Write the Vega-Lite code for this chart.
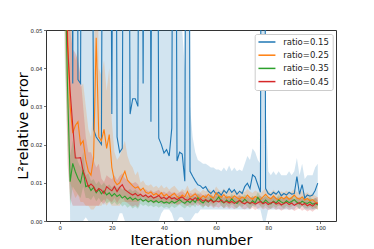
{
 "$schema": "https://vega.github.io/schema/vega-lite/v6.json",
 "width": 290, "height": 191,
 "autosize": {"type": "none"},
 "padding": {"left": 46, "top": 30, "right": 38, "bottom": 28},
 "background": "white",
 "config": {
  "view": {"stroke": "#333", "strokeWidth": 1},
  "font": "DejaVu Sans",
  "axis": {"grid": false, "domain": false, "ticks": true, "tickColor": "#333", "tickSize": 2.5, "tickWidth": 0.7, "labelFont": "DejaVu Sans", "labelFontSize": 5.4, "labelColor": "#222", "labelPadding": 1.5, "labelOverlap": false, "labelFlush": false, "titleFont": "DejaVu Sans", "titleFontSize": 14.4, "titleFontWeight": "normal", "titleColor": "#000"},
  "legend": {"orient": "none", "legendX": 208.7, "legendY": 4, "title": null, "symbolType": "M-1,0H3", "symbolSize": 72, "symbolStrokeWidth": 1.5, "labelFont": "DejaVu Sans", "labelFontSize": 8.5, "labelColor": "#222", "labelOffset": 15.5, "padding": 3, "rowPadding": 3.2, "fillColor": "white", "strokeColor": "#cccccc", "cornerRadius": 2, "symbolOpacity": 1}
 },
 "data": {"values": [
{"s":"ratio=0.15","x":0,"m":0.4,"lo":0.2,"hi":0.6},
{"s":"ratio=0.15","x":1,"m":0.3,"lo":0.15,"hi":0.45},
{"s":"ratio=0.15","x":2,"m":0.22,"lo":0.1,"hi":0.35},
{"s":"ratio=0.15","x":3,"m":0.15,"lo":0.07,"hi":0.25},
{"s":"ratio=0.15","x":4,"m":0.2,"lo":0.0,"hi":0.4},
{"s":"ratio=0.15","x":5,"m":0.036,"lo":0.0,"hi":0.12},
{"s":"ratio=0.15","x":6,"m":0.3,"lo":0.0,"hi":0.5},
{"s":"ratio=0.15","x":7,"m":0.037,"lo":0.0,"hi":0.1},
{"s":"ratio=0.15","x":8,"m":0.036,"lo":0.0,"hi":0.1},
{"s":"ratio=0.15","x":9,"m":0.25,"lo":0.0,"hi":0.45},
{"s":"ratio=0.15","x":10,"m":0.18,"lo":0.001,"hi":0.35},
{"s":"ratio=0.15","x":11,"m":0.22,"lo":0.0,"hi":0.4},
{"s":"ratio=0.15","x":12,"m":0.15,"lo":0.0,"hi":0.3},
{"s":"ratio=0.15","x":13,"m":0.024,"lo":0.0,"hi":0.08},
{"s":"ratio=0.15","x":14,"m":0.022,"lo":0.0,"hi":0.07},
{"s":"ratio=0.15","x":15,"m":0.021,"lo":0.0,"hi":0.06},
{"s":"ratio=0.15","x":16,"m":0.02,"lo":0.0,"hi":0.06},
{"s":"ratio=0.15","x":17,"m":0.2,"lo":0.0,"hi":0.4},
{"s":"ratio=0.15","x":18,"m":0.25,"lo":0.0,"hi":0.45},
{"s":"ratio=0.15","x":19,"m":0.18,"lo":0.0,"hi":0.35},
{"s":"ratio=0.15","x":20,"m":0.028,"lo":0.0,"hi":0.09},
{"s":"ratio=0.15","x":21,"m":0.2,"lo":0.0,"hi":0.38},
{"s":"ratio=0.15","x":22,"m":0.022,"lo":0.0,"hi":0.08},
{"s":"ratio=0.15","x":23,"m":0.018,"lo":0.002,"hi":0.07},
{"s":"ratio=0.15","x":24,"m":0.019,"lo":0.002,"hi":0.07},
{"s":"ratio=0.15","x":25,"m":0.22,"lo":0.0,"hi":0.4},
{"s":"ratio=0.15","x":26,"m":0.18,"lo":0.0,"hi":0.35},
{"s":"ratio=0.15","x":27,"m":0.028,"lo":0.0,"hi":0.08},
{"s":"ratio=0.15","x":28,"m":0.032,"lo":0.0,"hi":0.09},
{"s":"ratio=0.15","x":29,"m":0.032,"lo":0.0,"hi":0.09},
{"s":"ratio=0.15","x":30,"m":0.03,"lo":0.0,"hi":0.09},
{"s":"ratio=0.15","x":31,"m":0.2,"lo":0.0,"hi":0.38},
{"s":"ratio=0.15","x":32,"m":0.036,"lo":0.0,"hi":0.1},
{"s":"ratio=0.15","x":33,"m":0.22,"lo":0.0,"hi":0.4},
{"s":"ratio=0.15","x":34,"m":0.25,"lo":0.0,"hi":0.45},
{"s":"ratio=0.15","x":35,"m":0.026,"lo":0.0,"hi":0.08},
{"s":"ratio=0.15","x":36,"m":0.2,"lo":0.0,"hi":0.38},
{"s":"ratio=0.15","x":37,"m":0.18,"lo":0.0,"hi":0.35},
{"s":"ratio=0.15","x":38,"m":0.0217,"lo":0.0,"hi":0.07},
{"s":"ratio=0.15","x":39,"m":0.02,"lo":0.002,"hi":0.065},
{"s":"ratio=0.15","x":40,"m":0.0178,"lo":0.003,"hi":0.06},
{"s":"ratio=0.15","x":41,"m":0.0187,"lo":0.003,"hi":0.06},
{"s":"ratio=0.15","x":42,"m":0.017,"lo":0.003,"hi":0.06},
{"s":"ratio=0.15","x":43,"m":0.0243,"lo":0.002,"hi":0.07},
{"s":"ratio=0.15","x":44,"m":0.22,"lo":0.0,"hi":0.4},
{"s":"ratio=0.15","x":45,"m":0.0157,"lo":0.0,"hi":0.08},
{"s":"ratio=0.15","x":46,"m":0.018,"lo":0.001,"hi":0.07},
{"s":"ratio=0.15","x":47,"m":0.0175,"lo":0.001,"hi":0.05},
{"s":"ratio=0.15","x":48,"m":0.0104,"lo":0.0,"hi":0.04},
{"s":"ratio=0.15","x":49,"m":0.25,"lo":0.0,"hi":0.45},
{"s":"ratio=0.15","x":50,"m":0.013,"lo":0.0,"hi":0.03},
{"s":"ratio=0.15","x":51,"m":0.0117,"lo":0.001,"hi":0.022},
{"s":"ratio=0.15","x":52,"m":0.0105,"lo":0.002,"hi":0.018},
{"s":"ratio=0.15","x":53,"m":0.0095,"lo":0.002,"hi":0.016},
{"s":"ratio=0.15","x":54,"m":0.0092,"lo":0.003,"hi":0.0155},
{"s":"ratio=0.15","x":55,"m":0.0085,"lo":0.003,"hi":0.015},
{"s":"ratio=0.15","x":56,"m":0.009,"lo":0.003,"hi":0.015},
{"s":"ratio=0.15","x":57,"m":0.0078,"lo":0.003,"hi":0.0145},
{"s":"ratio=0.15","x":58,"m":0.0072,"lo":0.003,"hi":0.014},
{"s":"ratio=0.15","x":59,"m":0.008,"lo":0.003,"hi":0.014},
{"s":"ratio=0.15","x":60,"m":0.007,"lo":0.003,"hi":0.0135},
{"s":"ratio=0.15","x":61,"m":0.0075,"lo":0.003,"hi":0.0135},
{"s":"ratio=0.15","x":62,"m":0.0068,"lo":0.003,"hi":0.013},
{"s":"ratio=0.15","x":63,"m":0.008,"lo":0.003,"hi":0.014},
{"s":"ratio=0.15","x":64,"m":0.0073,"lo":0.003,"hi":0.013},
{"s":"ratio=0.15","x":65,"m":0.0085,"lo":0.003,"hi":0.0145},
{"s":"ratio=0.15","x":66,"m":0.0075,"lo":0.003,"hi":0.013},
{"s":"ratio=0.15","x":67,"m":0.0082,"lo":0.003,"hi":0.014},
{"s":"ratio=0.15","x":68,"m":0.007,"lo":0.003,"hi":0.013},
{"s":"ratio=0.15","x":69,"m":0.0078,"lo":0.003,"hi":0.0135},
{"s":"ratio=0.15","x":70,"m":0.0072,"lo":0.003,"hi":0.013},
{"s":"ratio=0.15","x":71,"m":0.009,"lo":0.003,"hi":0.015},
{"s":"ratio=0.15","x":72,"m":0.0099,"lo":0.003,"hi":0.017},
{"s":"ratio=0.15","x":73,"m":0.0085,"lo":0.003,"hi":0.016},
{"s":"ratio=0.15","x":74,"m":0.0121,"lo":0.004,"hi":0.019},
{"s":"ratio=0.15","x":75,"m":0.0115,"lo":0.004,"hi":0.018},
{"s":"ratio=0.15","x":76,"m":0.0095,"lo":0.003,"hi":0.016},
{"s":"ratio=0.15","x":77,"m":0.0075,"lo":0.003,"hi":0.015},
{"s":"ratio=0.15","x":78,"m":0.3,"lo":0.0,"hi":0.6},
{"s":"ratio=0.15","x":79,"m":0.0085,"lo":0.0,"hi":0.03},
{"s":"ratio=0.15","x":80,"m":0.0072,"lo":0.003,"hi":0.013},
{"s":"ratio=0.15","x":81,"m":0.0068,"lo":0.003,"hi":0.012},
{"s":"ratio=0.15","x":82,"m":0.0075,"lo":0.003,"hi":0.013},
{"s":"ratio=0.15","x":83,"m":0.007,"lo":0.003,"hi":0.012},
{"s":"ratio=0.15","x":84,"m":0.0078,"lo":0.003,"hi":0.013},
{"s":"ratio=0.15","x":85,"m":0.0066,"lo":0.003,"hi":0.012},
{"s":"ratio=0.15","x":86,"m":0.0072,"lo":0.003,"hi":0.012},
{"s":"ratio=0.15","x":87,"m":0.0068,"lo":0.003,"hi":0.012},
{"s":"ratio=0.15","x":88,"m":0.0075,"lo":0.003,"hi":0.013},
{"s":"ratio=0.15","x":89,"m":0.007,"lo":0.003,"hi":0.012},
{"s":"ratio=0.15","x":90,"m":0.0072,"lo":0.003,"hi":0.013},
{"s":"ratio=0.15","x":91,"m":0.0116,"lo":0.004,"hi":0.0165},
{"s":"ratio=0.15","x":92,"m":0.007,"lo":0.003,"hi":0.012},
{"s":"ratio=0.15","x":93,"m":0.0095,"lo":0.004,"hi":0.015},
{"s":"ratio=0.15","x":94,"m":0.006,"lo":0.003,"hi":0.011},
{"s":"ratio=0.15","x":95,"m":0.0068,"lo":0.003,"hi":0.012},
{"s":"ratio=0.15","x":96,"m":0.0065,"lo":0.003,"hi":0.012},
{"s":"ratio=0.15","x":97,"m":0.0068,"lo":0.003,"hi":0.012},
{"s":"ratio=0.15","x":98,"m":0.008,"lo":0.003,"hi":0.014},
{"s":"ratio=0.15","x":99,"m":0.0099,"lo":0.004,"hi":0.015},
{"s":"ratio=0.25","x":0,"m":0.25,"lo":0.12,"hi":0.4},
{"s":"ratio=0.25","x":1,"m":0.15,"lo":0.08,"hi":0.25},
{"s":"ratio=0.25","x":2,"m":0.09,"lo":0.05,"hi":0.15},
{"s":"ratio=0.25","x":3,"m":0.05,"lo":0.025,"hi":0.09},
{"s":"ratio=0.25","x":4,"m":0.03,"lo":0.01,"hi":0.06},
{"s":"ratio=0.25","x":5,"m":0.023,"lo":0.008,"hi":0.045},
{"s":"ratio=0.25","x":6,"m":0.025,"lo":0.006,"hi":0.042},
{"s":"ratio=0.25","x":7,"m":0.026,"lo":0.007,"hi":0.045},
{"s":"ratio=0.25","x":8,"m":0.02,"lo":0.005,"hi":0.035},
{"s":"ratio=0.25","x":9,"m":0.021,"lo":0.005,"hi":0.036},
{"s":"ratio=0.25","x":10,"m":0.016,"lo":0.004,"hi":0.03},
{"s":"ratio=0.25","x":11,"m":0.013,"lo":0.004,"hi":0.024},
{"s":"ratio=0.25","x":12,"m":0.012,"lo":0.003,"hi":0.022},
{"s":"ratio=0.25","x":13,"m":0.0165,"lo":0.003,"hi":0.03},
{"s":"ratio=0.25","x":14,"m":0.048,"lo":0.004,"hi":0.09},
{"s":"ratio=0.25","x":15,"m":0.022,"lo":0.004,"hi":0.04},
{"s":"ratio=0.25","x":16,"m":0.021,"lo":0.004,"hi":0.038},
{"s":"ratio=0.25","x":17,"m":0.024,"lo":0.005,"hi":0.042},
{"s":"ratio=0.25","x":18,"m":0.019,"lo":0.004,"hi":0.034},
{"s":"ratio=0.25","x":19,"m":0.0226,"lo":0.005,"hi":0.04},
{"s":"ratio=0.25","x":20,"m":0.014,"lo":0.004,"hi":0.026},
{"s":"ratio=0.25","x":21,"m":0.0105,"lo":0.004,"hi":0.018},
{"s":"ratio=0.25","x":22,"m":0.0095,"lo":0.004,"hi":0.016},
{"s":"ratio=0.25","x":23,"m":0.01,"lo":0.004,"hi":0.017},
{"s":"ratio=0.25","x":24,"m":0.0115,"lo":0.005,"hi":0.019},
{"s":"ratio=0.25","x":25,"m":0.013,"lo":0.005,"hi":0.021},
{"s":"ratio=0.25","x":26,"m":0.0107,"lo":0.005,"hi":0.017},
{"s":"ratio=0.25","x":27,"m":0.0099,"lo":0.005,"hi":0.015},
{"s":"ratio=0.25","x":28,"m":0.0092,"lo":0.005,"hi":0.014},
{"s":"ratio=0.25","x":29,"m":0.0086,"lo":0.005,"hi":0.012},
{"s":"ratio=0.25","x":30,"m":0.009,"lo":0.005,"hi":0.013},
{"s":"ratio=0.25","x":31,"m":0.008,"lo":0.006,"hi":0.01},
{"s":"ratio=0.25","x":32,"m":0.0086,"lo":0.0066,"hi":0.0106},
{"s":"ratio=0.25","x":33,"m":0.0075,"lo":0.0055,"hi":0.0095},
{"s":"ratio=0.25","x":34,"m":0.0072,"lo":0.0052,"hi":0.0092},
{"s":"ratio=0.25","x":35,"m":0.0076,"lo":0.0056,"hi":0.0096},
{"s":"ratio=0.25","x":36,"m":0.0068,"lo":0.0048,"hi":0.0088},
{"s":"ratio=0.25","x":37,"m":0.0072,"lo":0.0052,"hi":0.0092},
{"s":"ratio=0.25","x":38,"m":0.0066,"lo":0.0046,"hi":0.0086},
{"s":"ratio=0.25","x":39,"m":0.0074,"lo":0.0054,"hi":0.0094},
{"s":"ratio=0.25","x":40,"m":0.0065,"lo":0.0045,"hi":0.0085},
{"s":"ratio=0.25","x":41,"m":0.007,"lo":0.005,"hi":0.009},
{"s":"ratio=0.25","x":42,"m":0.0062,"lo":0.0042,"hi":0.0082},
{"s":"ratio=0.25","x":43,"m":0.0068,"lo":0.0048,"hi":0.0088},
{"s":"ratio=0.25","x":44,"m":0.0072,"lo":0.0052,"hi":0.0092},
{"s":"ratio=0.25","x":45,"m":0.0064,"lo":0.0044,"hi":0.0084},
{"s":"ratio=0.25","x":46,"m":0.006,"lo":0.0044,"hi":0.0076},
{"s":"ratio=0.25","x":47,"m":0.0068,"lo":0.0052,"hi":0.0084},
{"s":"ratio=0.25","x":48,"m":0.0063,"lo":0.0047,"hi":0.0079},
{"s":"ratio=0.25","x":49,"m":0.0077,"lo":0.0058,"hi":0.0093},
{"s":"ratio=0.25","x":50,"m":0.0062,"lo":0.0046,"hi":0.0078},
{"s":"ratio=0.25","x":51,"m":0.0066,"lo":0.005,"hi":0.0082},
{"s":"ratio=0.25","x":52,"m":0.0071,"lo":0.0055,"hi":0.0087},
{"s":"ratio=0.25","x":53,"m":0.0063,"lo":0.0047,"hi":0.0079},
{"s":"ratio=0.25","x":54,"m":0.0059,"lo":0.0043,"hi":0.0075},
{"s":"ratio=0.25","x":55,"m":0.0066,"lo":0.005,"hi":0.0082},
{"s":"ratio=0.25","x":56,"m":0.0061,"lo":0.0045,"hi":0.0077},
{"s":"ratio=0.25","x":57,"m":0.007,"lo":0.0054,"hi":0.0086},
{"s":"ratio=0.25","x":58,"m":0.0064,"lo":0.0048,"hi":0.008},
{"s":"ratio=0.25","x":59,"m":0.006,"lo":0.0044,"hi":0.0076},
{"s":"ratio=0.25","x":60,"m":0.0074,"lo":0.0058,"hi":0.009},
{"s":"ratio=0.25","x":61,"m":0.0066,"lo":0.005,"hi":0.0082},
{"s":"ratio=0.25","x":62,"m":0.0062,"lo":0.0046,"hi":0.0078},
{"s":"ratio=0.25","x":63,"m":0.0069,"lo":0.0053,"hi":0.0085},
{"s":"ratio=0.25","x":64,"m":0.006,"lo":0.0044,"hi":0.0076},
{"s":"ratio=0.25","x":65,"m":0.0064,"lo":0.0048,"hi":0.008},
{"s":"ratio=0.25","x":66,"m":0.0058,"lo":0.0042,"hi":0.0074},
{"s":"ratio=0.25","x":67,"m":0.0066,"lo":0.005,"hi":0.0082},
{"s":"ratio=0.25","x":68,"m":0.0061,"lo":0.0045,"hi":0.0077},
{"s":"ratio=0.25","x":69,"m":0.0057,"lo":0.0041,"hi":0.0073},
{"s":"ratio=0.25","x":70,"m":0.0063,"lo":0.0047,"hi":0.0079},
{"s":"ratio=0.25","x":71,"m":0.0059,"lo":0.0043,"hi":0.0075},
{"s":"ratio=0.25","x":72,"m":0.0068,"lo":0.0052,"hi":0.0084},
{"s":"ratio=0.25","x":73,"m":0.0061,"lo":0.0045,"hi":0.0077},
{"s":"ratio=0.25","x":74,"m":0.0057,"lo":0.0041,"hi":0.0073},
{"s":"ratio=0.25","x":75,"m":0.0064,"lo":0.0048,"hi":0.008},
{"s":"ratio=0.25","x":76,"m":0.006,"lo":0.0044,"hi":0.0076},
{"s":"ratio=0.25","x":77,"m":0.0056,"lo":0.004,"hi":0.0072},
{"s":"ratio=0.25","x":78,"m":0.0063,"lo":0.0047,"hi":0.0079},
{"s":"ratio=0.25","x":79,"m":0.007,"lo":0.0054,"hi":0.0086},
{"s":"ratio=0.25","x":80,"m":0.0062,"lo":0.0046,"hi":0.0078},
{"s":"ratio=0.25","x":81,"m":0.0058,"lo":0.0042,"hi":0.0074},
{"s":"ratio=0.25","x":82,"m":0.0066,"lo":0.005,"hi":0.0082},
{"s":"ratio=0.25","x":83,"m":0.0059,"lo":0.0043,"hi":0.0075},
{"s":"ratio=0.25","x":84,"m":0.0055,"lo":0.0039,"hi":0.0071},
{"s":"ratio=0.25","x":85,"m":0.0062,"lo":0.0046,"hi":0.0078},
{"s":"ratio=0.25","x":86,"m":0.0058,"lo":0.0042,"hi":0.0074},
{"s":"ratio=0.25","x":87,"m":0.0064,"lo":0.0048,"hi":0.008},
{"s":"ratio=0.25","x":88,"m":0.0057,"lo":0.0041,"hi":0.0073},
{"s":"ratio=0.25","x":89,"m":0.0061,"lo":0.0045,"hi":0.0077},
{"s":"ratio=0.25","x":90,"m":0.0068,"lo":0.0052,"hi":0.0084},
{"s":"ratio=0.25","x":91,"m":0.006,"lo":0.0044,"hi":0.0076},
{"s":"ratio=0.25","x":92,"m":0.0057,"lo":0.0041,"hi":0.0073},
{"s":"ratio=0.25","x":93,"m":0.0063,"lo":0.0047,"hi":0.0079},
{"s":"ratio=0.25","x":94,"m":0.0055,"lo":0.0039,"hi":0.0071},
{"s":"ratio=0.25","x":95,"m":0.0059,"lo":0.0043,"hi":0.0075},
{"s":"ratio=0.25","x":96,"m":0.0053,"lo":0.0037,"hi":0.0069},
{"s":"ratio=0.25","x":97,"m":0.0056,"lo":0.004,"hi":0.0072},
{"s":"ratio=0.25","x":98,"m":0.005,"lo":0.0034,"hi":0.0066},
{"s":"ratio=0.25","x":99,"m":0.0046,"lo":0.003,"hi":0.0062},
{"s":"ratio=0.35","x":0,"m":0.25,"lo":0.15,"hi":0.35},
{"s":"ratio=0.35","x":1,"m":0.14,"lo":0.08,"hi":0.2},
{"s":"ratio=0.35","x":2,"m":0.07,"lo":0.04,"hi":0.1},
{"s":"ratio=0.35","x":3,"m":0.035,"lo":0.02,"hi":0.05},
{"s":"ratio=0.35","x":4,"m":0.0103,"lo":0.004,"hi":0.017},
{"s":"ratio=0.35","x":5,"m":0.0151,"lo":0.009,"hi":0.021},
{"s":"ratio=0.35","x":6,"m":0.0129,"lo":0.008,"hi":0.018},
{"s":"ratio=0.35","x":7,"m":0.0112,"lo":0.007,"hi":0.0155},
{"s":"ratio=0.35","x":8,"m":0.01,"lo":0.006,"hi":0.014},
{"s":"ratio=0.35","x":9,"m":0.0134,"lo":0.009,"hi":0.018},
{"s":"ratio=0.35","x":10,"m":0.009,"lo":0.006,"hi":0.012},
{"s":"ratio=0.35","x":11,"m":0.0093,"lo":0.006,"hi":0.0125},
{"s":"ratio=0.35","x":12,"m":0.008,"lo":0.0055,"hi":0.0105},
{"s":"ratio=0.35","x":13,"m":0.0088,"lo":0.0066,"hi":0.011},
{"s":"ratio=0.35","x":14,"m":0.0074,"lo":0.0052,"hi":0.0096},
{"s":"ratio=0.35","x":15,"m":0.0083,"lo":0.0061,"hi":0.0105},
{"s":"ratio=0.35","x":16,"m":0.0071,"lo":0.0049,"hi":0.0093},
{"s":"ratio=0.35","x":17,"m":0.0079,"lo":0.0057,"hi":0.0101},
{"s":"ratio=0.35","x":18,"m":0.0068,"lo":0.0046,"hi":0.009},
{"s":"ratio=0.35","x":19,"m":0.0074,"lo":0.0052,"hi":0.0096},
{"s":"ratio=0.35","x":20,"m":0.0065,"lo":0.0043,"hi":0.0087},
{"s":"ratio=0.35","x":21,"m":0.0072,"lo":0.005,"hi":0.0094},
{"s":"ratio=0.35","x":22,"m":0.0064,"lo":0.0042,"hi":0.0086},
{"s":"ratio=0.35","x":23,"m":0.0069,"lo":0.0047,"hi":0.0091},
{"s":"ratio=0.35","x":24,"m":0.006,"lo":0.0038,"hi":0.0082},
{"s":"ratio=0.35","x":25,"m":0.0065,"lo":0.0043,"hi":0.0087},
{"s":"ratio=0.35","x":26,"m":0.0057,"lo":0.0035,"hi":0.0079},
{"s":"ratio=0.35","x":27,"m":0.0062,"lo":0.004,"hi":0.0084},
{"s":"ratio=0.35","x":28,"m":0.0055,"lo":0.0033,"hi":0.0077},
{"s":"ratio=0.35","x":29,"m":0.006,"lo":0.0038,"hi":0.0082},
{"s":"ratio=0.35","x":30,"m":0.0054,"lo":0.0032,"hi":0.0076},
{"s":"ratio=0.35","x":31,"m":0.0058,"lo":0.0045,"hi":0.0071},
{"s":"ratio=0.35","x":32,"m":0.0052,"lo":0.0039,"hi":0.0065},
{"s":"ratio=0.35","x":33,"m":0.0056,"lo":0.0043,"hi":0.0069},
{"s":"ratio=0.35","x":34,"m":0.005,"lo":0.0037,"hi":0.0063},
{"s":"ratio=0.35","x":35,"m":0.0054,"lo":0.0041,"hi":0.0067},
{"s":"ratio=0.35","x":36,"m":0.0049,"lo":0.0036,"hi":0.0062},
{"s":"ratio=0.35","x":37,"m":0.0053,"lo":0.004,"hi":0.0066},
{"s":"ratio=0.35","x":38,"m":0.0048,"lo":0.0035,"hi":0.0061},
{"s":"ratio=0.35","x":39,"m":0.0052,"lo":0.0039,"hi":0.0065},
{"s":"ratio=0.35","x":40,"m":0.0047,"lo":0.0034,"hi":0.006},
{"s":"ratio=0.35","x":41,"m":0.005,"lo":0.0037,"hi":0.0063},
{"s":"ratio=0.35","x":42,"m":0.0046,"lo":0.0033,"hi":0.0059},
{"s":"ratio=0.35","x":43,"m":0.0052,"lo":0.0039,"hi":0.0065},
{"s":"ratio=0.35","x":44,"m":0.0047,"lo":0.0034,"hi":0.006},
{"s":"ratio=0.35","x":45,"m":0.0051,"lo":0.0038,"hi":0.0064},
{"s":"ratio=0.35","x":46,"m":0.0056,"lo":0.0043,"hi":0.0069},
{"s":"ratio=0.35","x":47,"m":0.005,"lo":0.0037,"hi":0.0063},
{"s":"ratio=0.35","x":48,"m":0.0046,"lo":0.0033,"hi":0.0059},
{"s":"ratio=0.35","x":49,"m":0.0053,"lo":0.004,"hi":0.0066},
{"s":"ratio=0.35","x":50,"m":0.0048,"lo":0.0035,"hi":0.0061},
{"s":"ratio=0.35","x":51,"m":0.0055,"lo":0.0042,"hi":0.0068},
{"s":"ratio=0.35","x":52,"m":0.0049,"lo":0.0036,"hi":0.0062},
{"s":"ratio=0.35","x":53,"m":0.0061,"lo":0.0048,"hi":0.0074},
{"s":"ratio=0.35","x":54,"m":0.0052,"lo":0.0039,"hi":0.0065},
{"s":"ratio=0.35","x":55,"m":0.0047,"lo":0.0034,"hi":0.006},
{"s":"ratio=0.35","x":56,"m":0.0055,"lo":0.0042,"hi":0.0068},
{"s":"ratio=0.35","x":57,"m":0.0049,"lo":0.0036,"hi":0.0062},
{"s":"ratio=0.35","x":58,"m":0.0058,"lo":0.0045,"hi":0.0071},
{"s":"ratio=0.35","x":59,"m":0.005,"lo":0.0037,"hi":0.0063},
{"s":"ratio=0.35","x":60,"m":0.0054,"lo":0.0041,"hi":0.0067},
{"s":"ratio=0.35","x":61,"m":0.0063,"lo":0.005,"hi":0.0076},
{"s":"ratio=0.35","x":62,"m":0.0052,"lo":0.0039,"hi":0.0065},
{"s":"ratio=0.35","x":63,"m":0.0047,"lo":0.0034,"hi":0.006},
{"s":"ratio=0.35","x":64,"m":0.0055,"lo":0.0042,"hi":0.0068},
{"s":"ratio=0.35","x":65,"m":0.0049,"lo":0.0036,"hi":0.0062},
{"s":"ratio=0.35","x":66,"m":0.0058,"lo":0.0045,"hi":0.0071},
{"s":"ratio=0.35","x":67,"m":0.0051,"lo":0.0038,"hi":0.0064},
{"s":"ratio=0.35","x":68,"m":0.0046,"lo":0.0033,"hi":0.0059},
{"s":"ratio=0.35","x":69,"m":0.0054,"lo":0.0041,"hi":0.0067},
{"s":"ratio=0.35","x":70,"m":0.0049,"lo":0.0036,"hi":0.0062},
{"s":"ratio=0.35","x":71,"m":0.0057,"lo":0.0044,"hi":0.007},
{"s":"ratio=0.35","x":72,"m":0.005,"lo":0.0037,"hi":0.0063},
{"s":"ratio=0.35","x":73,"m":0.0045,"lo":0.0032,"hi":0.0058},
{"s":"ratio=0.35","x":74,"m":0.0053,"lo":0.004,"hi":0.0066},
{"s":"ratio=0.35","x":75,"m":0.0048,"lo":0.0035,"hi":0.0061},
{"s":"ratio=0.35","x":76,"m":0.0062,"lo":0.0049,"hi":0.0075},
{"s":"ratio=0.35","x":77,"m":0.0052,"lo":0.0039,"hi":0.0065},
{"s":"ratio=0.35","x":78,"m":0.0047,"lo":0.0034,"hi":0.006},
{"s":"ratio=0.35","x":79,"m":0.0055,"lo":0.0042,"hi":0.0068},
{"s":"ratio=0.35","x":80,"m":0.0048,"lo":0.0035,"hi":0.0061},
{"s":"ratio=0.35","x":81,"m":0.0045,"lo":0.0032,"hi":0.0058},
{"s":"ratio=0.35","x":82,"m":0.0052,"lo":0.0039,"hi":0.0065},
{"s":"ratio=0.35","x":83,"m":0.0047,"lo":0.0034,"hi":0.006},
{"s":"ratio=0.35","x":84,"m":0.0055,"lo":0.0042,"hi":0.0068},
{"s":"ratio=0.35","x":85,"m":0.005,"lo":0.0037,"hi":0.0063},
{"s":"ratio=0.35","x":86,"m":0.0046,"lo":0.0033,"hi":0.0059},
{"s":"ratio=0.35","x":87,"m":0.0053,"lo":0.004,"hi":0.0066},
{"s":"ratio=0.35","x":88,"m":0.0048,"lo":0.0035,"hi":0.0061},
{"s":"ratio=0.35","x":89,"m":0.0051,"lo":0.0038,"hi":0.0064},
{"s":"ratio=0.35","x":90,"m":0.0056,"lo":0.0043,"hi":0.0069},
{"s":"ratio=0.35","x":91,"m":0.0049,"lo":0.0036,"hi":0.0062},
{"s":"ratio=0.35","x":92,"m":0.0045,"lo":0.0032,"hi":0.0058},
{"s":"ratio=0.35","x":93,"m":0.0052,"lo":0.0039,"hi":0.0065},
{"s":"ratio=0.35","x":94,"m":0.0048,"lo":0.0035,"hi":0.0061},
{"s":"ratio=0.35","x":95,"m":0.0046,"lo":0.0033,"hi":0.0059},
{"s":"ratio=0.35","x":96,"m":0.005,"lo":0.0037,"hi":0.0063},
{"s":"ratio=0.35","x":97,"m":0.0044,"lo":0.0031,"hi":0.0057},
{"s":"ratio=0.35","x":98,"m":0.0047,"lo":0.0034,"hi":0.006},
{"s":"ratio=0.35","x":99,"m":0.0042,"lo":0.0029,"hi":0.0055},
{"s":"ratio=0.45","x":0,"m":0.3,"lo":0.18,"hi":0.45},
{"s":"ratio=0.45","x":1,"m":0.18,"lo":0.1,"hi":0.28},
{"s":"ratio=0.45","x":2,"m":0.09,"lo":0.05,"hi":0.15},
{"s":"ratio=0.45","x":3,"m":0.046,"lo":0.015,"hi":0.08},
{"s":"ratio=0.45","x":4,"m":0.034,"lo":0.006,"hi":0.05},
{"s":"ratio=0.45","x":5,"m":0.025,"lo":0.004,"hi":0.045},
{"s":"ratio=0.45","x":6,"m":0.0165,"lo":0.004,"hi":0.044},
{"s":"ratio=0.45","x":7,"m":0.0165,"lo":0.004,"hi":0.042},
{"s":"ratio=0.45","x":8,"m":0.0166,"lo":0.004,"hi":0.038},
{"s":"ratio=0.45","x":9,"m":0.013,"lo":0.004,"hi":0.03},
{"s":"ratio=0.45","x":10,"m":0.0111,"lo":0.004,"hi":0.022},
{"s":"ratio=0.45","x":11,"m":0.009,"lo":0.004,"hi":0.018},
{"s":"ratio=0.45","x":12,"m":0.0097,"lo":0.004,"hi":0.018},
{"s":"ratio=0.45","x":13,"m":0.009,"lo":0.004,"hi":0.016},
{"s":"ratio=0.45","x":14,"m":0.0077,"lo":0.004,"hi":0.014},
{"s":"ratio=0.45","x":15,"m":0.0085,"lo":0.004,"hi":0.015},
{"s":"ratio=0.45","x":16,"m":0.0081,"lo":0.0051,"hi":0.0111},
{"s":"ratio=0.45","x":17,"m":0.0072,"lo":0.0042,"hi":0.0102},
{"s":"ratio=0.45","x":18,"m":0.009,"lo":0.006,"hi":0.012},
{"s":"ratio=0.45","x":19,"m":0.0084,"lo":0.0054,"hi":0.0114},
{"s":"ratio=0.45","x":20,"m":0.0079,"lo":0.0049,"hi":0.0109},
{"s":"ratio=0.45","x":21,"m":0.009,"lo":0.006,"hi":0.012},
{"s":"ratio=0.45","x":22,"m":0.0077,"lo":0.0047,"hi":0.0107},
{"s":"ratio=0.45","x":23,"m":0.0088,"lo":0.0058,"hi":0.0118},
{"s":"ratio=0.45","x":24,"m":0.0095,"lo":0.0065,"hi":0.0125},
{"s":"ratio=0.45","x":25,"m":0.0082,"lo":0.0052,"hi":0.0112},
{"s":"ratio=0.45","x":26,"m":0.0077,"lo":0.0047,"hi":0.0107},
{"s":"ratio=0.45","x":27,"m":0.0072,"lo":0.0042,"hi":0.0102},
{"s":"ratio=0.45","x":28,"m":0.0068,"lo":0.0038,"hi":0.0098},
{"s":"ratio=0.45","x":29,"m":0.0072,"lo":0.0042,"hi":0.0102},
{"s":"ratio=0.45","x":30,"m":0.0066,"lo":0.0036,"hi":0.0096},
{"s":"ratio=0.45","x":31,"m":0.007,"lo":0.0055,"hi":0.0085},
{"s":"ratio=0.45","x":32,"m":0.0064,"lo":0.0049,"hi":0.0079},
{"s":"ratio=0.45","x":33,"m":0.0068,"lo":0.0053,"hi":0.0083},
{"s":"ratio=0.45","x":34,"m":0.0062,"lo":0.0047,"hi":0.0077},
{"s":"ratio=0.45","x":35,"m":0.0066,"lo":0.0051,"hi":0.0081},
{"s":"ratio=0.45","x":36,"m":0.006,"lo":0.0045,"hi":0.0075},
{"s":"ratio=0.45","x":37,"m":0.0063,"lo":0.0048,"hi":0.0078},
{"s":"ratio=0.45","x":38,"m":0.0067,"lo":0.0052,"hi":0.0082},
{"s":"ratio=0.45","x":39,"m":0.0059,"lo":0.0044,"hi":0.0074},
{"s":"ratio=0.45","x":40,"m":0.0062,"lo":0.0047,"hi":0.0077},
{"s":"ratio=0.45","x":41,"m":0.0057,"lo":0.0042,"hi":0.0072},
{"s":"ratio=0.45","x":42,"m":0.0064,"lo":0.0049,"hi":0.0079},
{"s":"ratio=0.45","x":43,"m":0.0058,"lo":0.0043,"hi":0.0073},
{"s":"ratio=0.45","x":44,"m":0.0061,"lo":0.0046,"hi":0.0076},
{"s":"ratio=0.45","x":45,"m":0.0056,"lo":0.0041,"hi":0.0071},
{"s":"ratio=0.45","x":46,"m":0.006,"lo":0.0045,"hi":0.0075},
{"s":"ratio=0.45","x":47,"m":0.0063,"lo":0.0048,"hi":0.0078},
{"s":"ratio=0.45","x":48,"m":0.0057,"lo":0.0042,"hi":0.0072},
{"s":"ratio=0.45","x":49,"m":0.0054,"lo":0.0039,"hi":0.0069},
{"s":"ratio=0.45","x":50,"m":0.0059,"lo":0.0044,"hi":0.0074},
{"s":"ratio=0.45","x":51,"m":0.0055,"lo":0.004,"hi":0.007},
{"s":"ratio=0.45","x":52,"m":0.0061,"lo":0.0046,"hi":0.0076},
{"s":"ratio=0.45","x":53,"m":0.0054,"lo":0.0039,"hi":0.0069},
{"s":"ratio=0.45","x":54,"m":0.0058,"lo":0.0043,"hi":0.0073},
{"s":"ratio=0.45","x":55,"m":0.0052,"lo":0.0037,"hi":0.0067},
{"s":"ratio=0.45","x":56,"m":0.0056,"lo":0.0041,"hi":0.0071},
{"s":"ratio=0.45","x":57,"m":0.0051,"lo":0.0036,"hi":0.0066},
{"s":"ratio=0.45","x":58,"m":0.0055,"lo":0.004,"hi":0.007},
{"s":"ratio=0.45","x":59,"m":0.0049,"lo":0.0034,"hi":0.0064},
{"s":"ratio=0.45","x":60,"m":0.0053,"lo":0.0038,"hi":0.0068},
{"s":"ratio=0.45","x":61,"m":0.005,"lo":0.0035,"hi":0.0065},
{"s":"ratio=0.45","x":62,"m":0.0055,"lo":0.004,"hi":0.007},
{"s":"ratio=0.45","x":63,"m":0.0048,"lo":0.0033,"hi":0.0063},
{"s":"ratio=0.45","x":64,"m":0.0052,"lo":0.0037,"hi":0.0067},
{"s":"ratio=0.45","x":65,"m":0.0047,"lo":0.0032,"hi":0.0062},
{"s":"ratio=0.45","x":66,"m":0.0051,"lo":0.0036,"hi":0.0066},
{"s":"ratio=0.45","x":67,"m":0.0046,"lo":0.0031,"hi":0.0061},
{"s":"ratio=0.45","x":68,"m":0.005,"lo":0.0035,"hi":0.0065},
{"s":"ratio=0.45","x":69,"m":0.0054,"lo":0.0039,"hi":0.0069},
{"s":"ratio=0.45","x":70,"m":0.0048,"lo":0.0033,"hi":0.0063},
{"s":"ratio=0.45","x":71,"m":0.0045,"lo":0.003,"hi":0.006},
{"s":"ratio=0.45","x":72,"m":0.005,"lo":0.0035,"hi":0.0065},
{"s":"ratio=0.45","x":73,"m":0.0046,"lo":0.0031,"hi":0.0061},
{"s":"ratio=0.45","x":74,"m":0.0049,"lo":0.0034,"hi":0.0064},
{"s":"ratio=0.45","x":75,"m":0.0044,"lo":0.0029,"hi":0.0059},
{"s":"ratio=0.45","x":76,"m":0.0048,"lo":0.0033,"hi":0.0063},
{"s":"ratio=0.45","x":77,"m":0.0051,"lo":0.0036,"hi":0.0066},
{"s":"ratio=0.45","x":78,"m":0.0045,"lo":0.003,"hi":0.006},
{"s":"ratio=0.45","x":79,"m":0.0049,"lo":0.0034,"hi":0.0064},
{"s":"ratio=0.45","x":80,"m":0.0043,"lo":0.0028,"hi":0.0058},
{"s":"ratio=0.45","x":81,"m":0.0047,"lo":0.0032,"hi":0.0062},
{"s":"ratio=0.45","x":82,"m":0.005,"lo":0.0035,"hi":0.0065},
{"s":"ratio=0.45","x":83,"m":0.0044,"lo":0.0029,"hi":0.0059},
{"s":"ratio=0.45","x":84,"m":0.0048,"lo":0.0033,"hi":0.0063},
{"s":"ratio=0.45","x":85,"m":0.0042,"lo":0.0027,"hi":0.0057},
{"s":"ratio=0.45","x":86,"m":0.0046,"lo":0.0031,"hi":0.0061},
{"s":"ratio=0.45","x":87,"m":0.0049,"lo":0.0034,"hi":0.0064},
{"s":"ratio=0.45","x":88,"m":0.0043,"lo":0.0028,"hi":0.0058},
{"s":"ratio=0.45","x":89,"m":0.0047,"lo":0.0032,"hi":0.0062},
{"s":"ratio=0.45","x":90,"m":0.0041,"lo":0.0026,"hi":0.0056},
{"s":"ratio=0.45","x":91,"m":0.0045,"lo":0.003,"hi":0.006},
{"s":"ratio=0.45","x":92,"m":0.0048,"lo":0.0033,"hi":0.0063},
{"s":"ratio=0.45","x":93,"m":0.0042,"lo":0.0027,"hi":0.0057},
{"s":"ratio=0.45","x":94,"m":0.0046,"lo":0.0031,"hi":0.0061},
{"s":"ratio=0.45","x":95,"m":0.004,"lo":0.0025,"hi":0.0055},
{"s":"ratio=0.45","x":96,"m":0.0044,"lo":0.0029,"hi":0.0059},
{"s":"ratio=0.45","x":97,"m":0.0039,"lo":0.0024,"hi":0.0054},
{"s":"ratio=0.45","x":98,"m":0.0045,"lo":0.003,"hi":0.006},
{"s":"ratio=0.45","x":99,"m":0.0047,"lo":0.0032,"hi":0.0062}
 ]},
 "layer": [
  {
   "mark": {"type": "area", "clip": true, "opacity": 0.2},
   "encoding": {
    "x": {"field": "x", "type": "quantitative", "scale": {"domain": [-5.26, 106.0], "nice": false, "zero": false},
          "axis": {"values": [0, 20, 40, 60, 80, 100], "labelOverlap": false, "title": "Iteration number", "titleX": 145, "titleY": 23, "titleAlign": "center", "titleBaseline": "alphabetic"}},
    "y": {"field": "lo", "type": "quantitative", "scale": {"domain": [0, 0.05], "nice": false, "zero": false},
          "axis": {"values": [0, 0.01, 0.02, 0.03, 0.04, 0.05], "format": ".2f", "labelOverlap": false, "labelFlush": false, "title": "L²relative error", "titleAngle": 270, "titleX": -19, "titleY": 95.5, "titleAlign": "center", "titleBaseline": "alphabetic"}},
    "y2": {"field": "hi"},
    "fill": {"field": "s", "type": "nominal", "scale": {"range": ["#1f77b4", "#ff7f0e", "#2ca02c", "#d62728"]}}
   }
  },
  {
   "mark": {"type": "line", "clip": true, "strokeWidth": 1.1},
   "encoding": {
    "x": {"field": "x", "type": "quantitative"},
    "y": {"field": "m", "type": "quantitative", "axis": {"values": [0, 0.01, 0.02, 0.03, 0.04, 0.05], "format": ".2f", "labelOverlap": false, "labelFlush": false, "title": "L²relative error", "titleAngle": 270, "titleX": -19, "titleY": 95.5, "titleAlign": "center", "titleBaseline": "alphabetic"}},
    "stroke": {"field": "s", "type": "nominal", "scale": {"range": ["#1f77b4", "#ff7f0e", "#2ca02c", "#d62728"]}}
   }
  }
 ]
}
